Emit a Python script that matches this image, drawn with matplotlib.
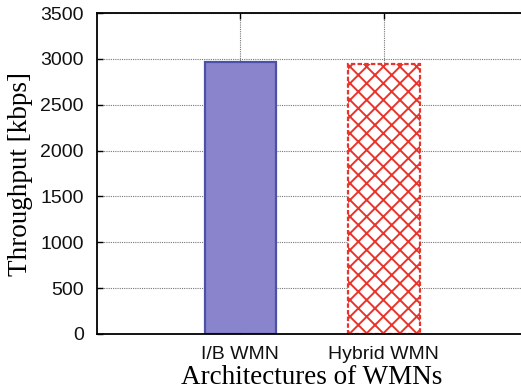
import numpy as np
import matplotlib
matplotlib.use("Agg")
import matplotlib.pyplot as plt

# data
architectures = ["I/B WMN", "Hybrid WMN"]
throughput = [2970, 2945]
yticks = [0, 500, 1000, 1500, 2000, 2500, 3000, 3500]

plt.rcParams['hatch.linewidth'] = 1.4
plt.rcParams['hatch.color'] = '#e8342b'

fig = plt.figure(figsize=(5.21, 3.90), dpi=100)
ax = fig.add_axes([97/521, 1 - 334/390, 430/521, 321/390])

pos = np.arange(1, len(architectures) + 1)

# I/B bar: solid purple
ax.bar(pos[0], throughput[0], width=0.5, color='#8a84cc',
       edgecolor='#4c51a8', linewidth=1.6, zorder=2)
# Hybrid bar: red crosshatch with dashed border
ax.bar(pos[1], throughput[1], width=0.5, color='white',
       edgecolor='#e8342b', hatch='xx', linewidth=1.6,
       linestyle=(0, (2, 1)), zorder=2)

ax.set_xlim(0, 3)
ax.set_ylim(0, 3500)
ax.set_xticks(pos)
ax.set_xticklabels(architectures, family='Liberation Sans', fontsize=14)
ax.set_yticks(yticks)
ax.set_yticklabels([str(v) for v in yticks], family='Liberation Sans', fontsize=14)

ax.grid(True, linestyle=(0, (1, 1)), color='#777777', linewidth=0.8)
ax.set_axisbelow(True)

ax.tick_params(direction='in', length=4, width=1, top=True, right=False,
               labelcolor='#111111')
ax.tick_params(axis='y', pad=9.5)
ax.tick_params(axis='x', pad=8.5)
for s in ax.spines.values():
    s.set_linewidth(1.3)
ax.spines['right'].set_visible(False)

ax.set_ylabel("Throughput [kbps]", family='Liberation Serif', fontsize=19.5, labelpad=5)
ax.set_xlabel("Architectures of WMNs", family='Liberation Serif', fontsize=19.5, labelpad=1.5)

fig.savefig("out.png", dpi=100)
